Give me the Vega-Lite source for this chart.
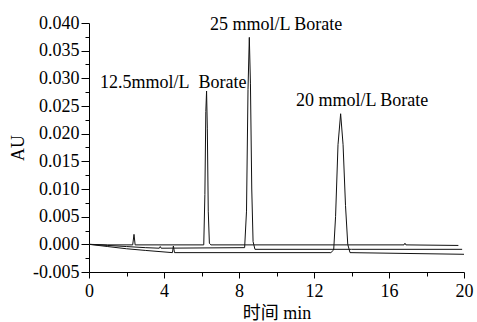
{
  "$schema": "https://vega.github.io/schema/vega-lite/v6.json",
  "width": 375,
  "height": 249,
  "autosize": "none",
  "padding": {"left": 89, "top": 23, "right": 13, "bottom": 50},
  "background": "white",
  "config": {
    "view": {"stroke": null},
    "font": "Liberation Serif",
    "axis": {
      "grid": false,
      "domainColor": "#000",
      "domainWidth": 1,
      "tickColor": "#000",
      "tickWidth": 1,
      "labelColor": "#000",
      "labelFont": "Liberation Serif",
      "labelFontSize": 18,
      "titleColor": "#000",
      "titleFont": "Liberation Serif, Noto Sans CJK SC",
      "titleFontSize": 18,
      "titleFontWeight": "normal"
    }
  },
  "datasets": {
    "traces": [
      {"b": "12.5", "t": 0, "v": 0.0},
      {"b": "12.5", "t": 1, "v": -0.0001},
      {"b": "12.5", "t": 2.33, "v": -0.0001},
      {"b": "12.5", "t": 2.4, "v": 0.0018},
      {"b": "12.5", "t": 2.46, "v": -0.0001},
      {"b": "12.5", "t": 6.12, "v": -0.0001},
      {"b": "12.5", "t": 6.18, "v": 0.009},
      {"b": "12.5", "t": 6.23, "v": 0.024},
      {"b": "12.5", "t": 6.27, "v": 0.0277},
      {"b": "12.5", "t": 6.31, "v": 0.021},
      {"b": "12.5", "t": 6.36, "v": 0.006},
      {"b": "12.5", "t": 6.42, "v": 0.0002},
      {"b": "12.5", "t": 6.5, "v": -0.0001},
      {"b": "12.5", "t": 12, "v": -0.0001},
      {"b": "12.5", "t": 16.8, "v": -0.0001},
      {"b": "12.5", "t": 16.85, "v": 0.0002},
      {"b": "12.5", "t": 16.9, "v": -0.0001},
      {"b": "12.5", "t": 19.7, "v": -0.0002},
      {"b": "25", "t": 0, "v": 0.0},
      {"b": "25", "t": 1, "v": -0.0002},
      {"b": "25", "t": 2, "v": -0.0004},
      {"b": "25", "t": 3, "v": -0.0006},
      {"b": "25", "t": 3.75, "v": -0.0007},
      {"b": "25", "t": 3.8, "v": -0.0004},
      {"b": "25", "t": 3.85, "v": -0.0007},
      {"b": "25", "t": 8.3, "v": -0.0006},
      {"b": "25", "t": 8.4, "v": 0.006},
      {"b": "25", "t": 8.48, "v": 0.028},
      {"b": "25", "t": 8.55, "v": 0.0374},
      {"b": "25", "t": 8.61, "v": 0.029},
      {"b": "25", "t": 8.68, "v": 0.01},
      {"b": "25", "t": 8.75, "v": 0.0005},
      {"b": "25", "t": 8.85, "v": -0.0009},
      {"b": "25", "t": 14, "v": -0.0009},
      {"b": "25", "t": 19.9, "v": -0.0009},
      {"b": "20", "t": 0, "v": 0.0},
      {"b": "20", "t": 1, "v": -0.0004},
      {"b": "20", "t": 2, "v": -0.0008},
      {"b": "20", "t": 3, "v": -0.0011},
      {"b": "20", "t": 4.45, "v": -0.0015},
      {"b": "20", "t": 4.5, "v": -0.0003},
      {"b": "20", "t": 4.56, "v": -0.0015},
      {"b": "20", "t": 8, "v": -0.0015},
      {"b": "20", "t": 12.9, "v": -0.0015},
      {"b": "20", "t": 13.05, "v": -0.001},
      {"b": "20", "t": 13.15, "v": 0.005},
      {"b": "20", "t": 13.28, "v": 0.018},
      {"b": "20", "t": 13.42, "v": 0.0236},
      {"b": "20", "t": 13.55, "v": 0.018},
      {"b": "20", "t": 13.68, "v": 0.007},
      {"b": "20", "t": 13.8, "v": 0.0},
      {"b": "20", "t": 13.92, "v": -0.0015},
      {"b": "20", "t": 20, "v": -0.0018}
    ],
    "labels": [
      {"t": 0.59, "v": 0.0283, "label": "12.5mmol/L\u00a0 Borate"},
      {"t": 6.45, "v": 0.0387, "label": "25 mmol/L Borate"},
      {"t": 11.04, "v": 0.025, "label": "20 mmol/L Borate"}
    ],
    "minor": [{"t": 2, "v": 0}]
  },
  "layer": [
    {
      "data": {"name": "traces"},
      "mark": {"type": "line", "color": "#111", "strokeWidth": 1, "clip": false},
      "encoding": {
        "x": {
          "field": "t", "type": "quantitative",
          "scale": {"domain": [0, 20], "nice": false, "zero": false},
          "axis": {
            "orient": "bottom",
            "values": [0, 4, 8, 12, 16, 20],
            "tickSize": 6,
            "labelPadding": 4,
            "labelFlush": false,
            "title": "时间 min",
            "titlePadding": 4
          }
        },
        "y": {
          "field": "v", "type": "quantitative",
          "scale": {"domain": [-0.005, 0.04], "nice": false, "zero": false},
          "axis": {
            "orient": "left",
            "values": [-0.005, 0, 0.005, 0.01, 0.015, 0.02, 0.025, 0.03, 0.035, 0.04],
            "labelExpr": "replace(format(datum.value, '.3f'), '\u2212', '-')",
            "tickSize": 8,
            "labelPadding": 2,
            "labelFlush": false,
            "title": "AU",
            "titlePadding": 5
          }
        },
        "detail": {"field": "b", "type": "nominal"}
      }
    },
    {
      "data": {"name": "labels"},
      "mark": {"type": "text", "align": "left", "baseline": "alphabetic", "fontSize": 18, "font": "Liberation Serif", "color": "#000"},
      "encoding": {
        "x": {"field": "t", "type": "quantitative", "axis": null},
        "y": {"field": "v", "type": "quantitative", "axis": null},
        "text": {"field": "label", "type": "nominal"}
      }
    },
    {
      "data": {"name": "minor"},
      "mark": {"type": "point", "opacity": 0},
      "encoding": {
        "x": {
          "field": "t", "type": "quantitative",
          "axis": {"orient": "bottom", "values": [2, 6, 10, 14, 18], "tickSize": 4, "labels": false, "domain": false, "title": null}
        },
        "y": {
          "field": "v", "type": "quantitative",
          "axis": {"orient": "left", "values": [-0.0025, 0.0025, 0.0075, 0.0125, 0.0175, 0.0225, 0.0275, 0.0325, 0.0375], "tickSize": 4, "labels": false, "domain": false, "title": null}
        }
      }
    }
  ],
  "resolve": {"axis": {"x": "independent", "y": "independent"}}
}
